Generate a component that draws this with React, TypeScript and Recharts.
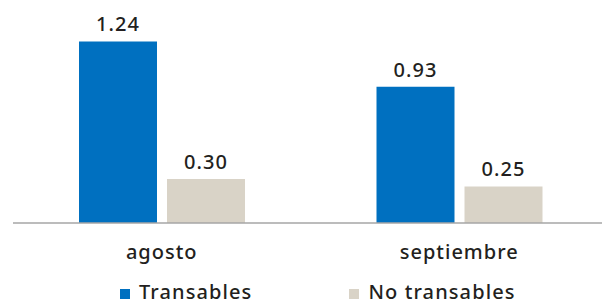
import { BarChart, Bar, XAxis, YAxis, Legend, LabelList } from 'recharts'

const categories = ['agosto', 'septiembre']
const transables = [1.24, 0.93]
const noTransables = [0.3, 0.25]
const seriesNames = ['Transables', 'No transables']

const data = categories.map((name, i) => ({
  name,
  transables: transables[i],
  noTransables: noTransables[i],
}))

const FONT = '"Noto Sans", sans-serif'
const TEXT = '#231f20'
const txt = { fontSize: 20, fill: TEXT, fontFamily: FONT, fontWeight: 500, letterSpacing: 1 }

function renderLegend(props: any) {
  const items = seriesNames.map((n) => props.payload.find((p: any) => p.value === n)).filter(Boolean)
  return (
    <div style={{ display: 'flex', paddingLeft: 107, paddingTop: 9, gap: 97, fontFamily: FONT }}>
      {items.map((p: any) => (
        <div key={p.value} style={{ display: 'flex', alignItems: 'center', height: 20 }}>
          <span style={{ width: 10, height: 10, background: p.color, marginRight: 9, marginTop: 4, display: 'inline-block' }} />
          <span style={{ fontSize: 20, lineHeight: '20px', color: TEXT, fontWeight: 500, letterSpacing: 1.1 }}>{p.value}</span>
        </div>
      ))}
    </div>
  )
}

export default function App() {
  return (
    <div style={{ position: 'absolute', left: 0, top: 0, background: '#fff' }}>
      <BarChart
        width={602}
        height={304}
        data={data}
        margin={{ top: 18, right: -6, bottom: 0, left: 13 }}
        barGap={10}
        barSize={78}
      >
        <XAxis
          dataKey="name"
          tickLine={false}
          axisLine={{ stroke: '#a6a6a6', strokeWidth: 1.5 }}
          tick={txt}
          tickMargin={16}
          height={50}
        />
        <YAxis hide domain={[0, 1.4]} />
        <Legend
          verticalAlign="bottom"
          align="left"
          height={31}
          content={renderLegend}
        />
        <Bar dataKey="transables" name={seriesNames[0]} fill="#0070c0" isAnimationActive={false}>
          <LabelList
            dataKey="transables"
            position="top"
            offset={10}
            formatter={(v: any) => Number(v).toFixed(2)}
            style={txt}
          />
        </Bar>
        <Bar dataKey="noTransables" name={seriesNames[1]} fill="#d9d3c7" isAnimationActive={false}>
          <LabelList
            dataKey="noTransables"
            position="top"
            offset={10}
            formatter={(v: any) => Number(v).toFixed(2)}
            style={txt}
          />
        </Bar>
      </BarChart>
    </div>
  )
}
